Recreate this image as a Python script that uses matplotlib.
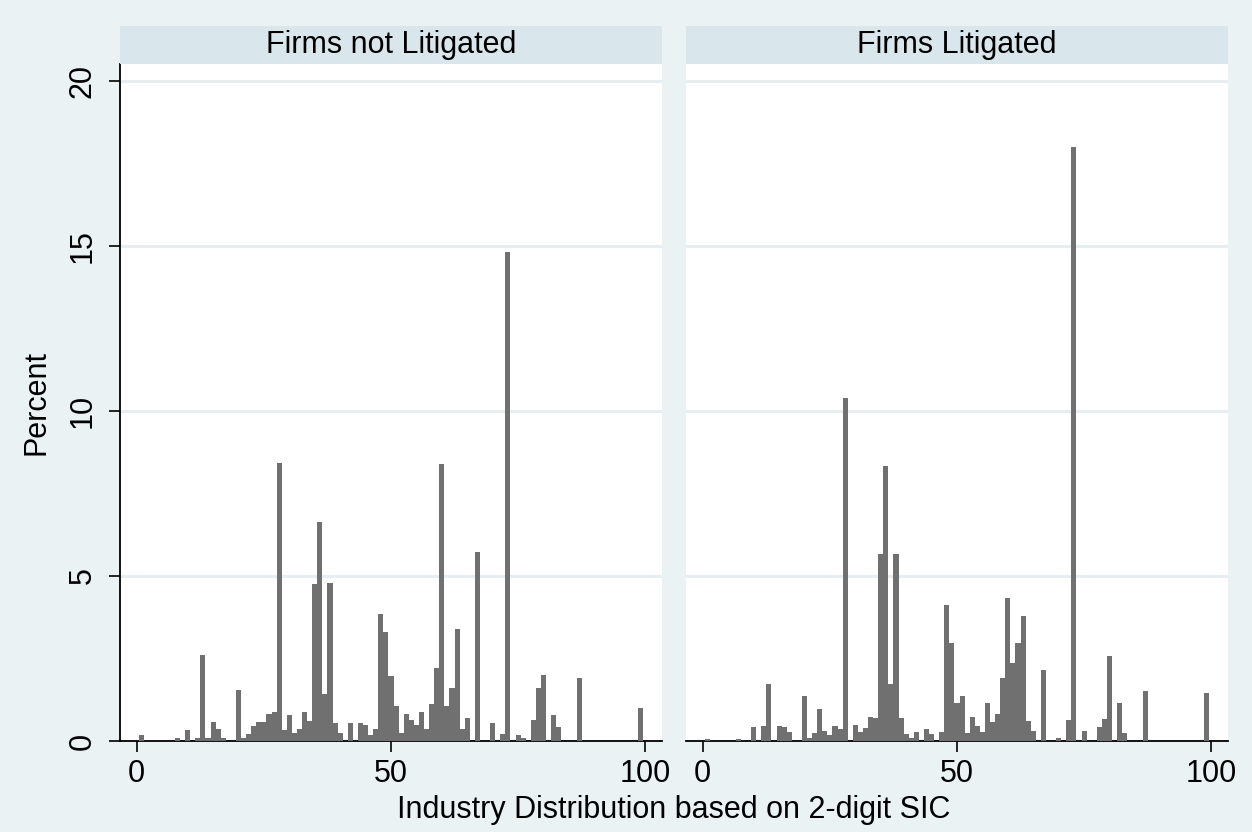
import matplotlib
matplotlib.use("Agg")
import matplotlib.pyplot as plt
import numpy as np

# Percent of firms by 2-digit SIC code
sic_not = [1, 8, 10, 12, 13, 14, 15, 16, 17, 20, 21, 22, 23, 24, 25, 26, 27, 28, 29, 30,
           31, 32, 33, 34, 35, 36, 37, 38, 39, 40, 42, 44, 45, 46, 47, 48, 49, 50, 51, 52,
           53, 54, 55, 56, 57, 58, 59, 60, 61, 62, 63, 64, 65, 67, 70, 72, 73, 75, 76, 78,
           79, 80, 82, 83, 87, 99]
pct_not = [0.18, 0.09, 0.32, 0.09, 2.6, 0.09, 0.59, 0.36, 0.09, 1.55, 0.09, 0.22, 0.45, 0.59, 0.59, 0.82, 0.87, 8.42, 0.32, 0.79,
           0.24, 0.37, 0.88, 0.61, 4.77, 6.64, 1.43, 4.8, 0.56, 0.24, 0.56, 0.56, 0.47, 0.18, 0.35, 3.86, 3.3, 1.97, 1.06, 0.24,
           0.83, 0.65, 0.47, 0.88, 0.37, 1.11, 2.2, 8.4, 1.06, 1.62, 3.39, 0.37, 0.7, 5.72, 0.56, 0.22, 14.8, 0.19, 0.1, 0.65,
           1.62, 2.01, 0.79, 0.42, 1.92, 1.01]

sic_lit = [1, 7, 10, 12, 13, 15, 16, 17, 20, 21, 22, 23, 24, 25, 26, 27, 28, 30, 31,
           32, 33, 34, 35, 36, 37, 38, 39, 40, 41, 42, 44, 45, 47, 48, 49, 50, 51, 52, 53,
           54, 55, 56, 57, 58, 59, 60, 61, 62, 63, 64, 65, 67, 70, 72, 73, 75, 78, 79, 80,
           82, 83, 87, 99]
pct_lit = [0.06, 0.06, 0.41, 0.45, 1.73, 0.45, 0.41, 0.28, 1.36, 0.08, 0.23, 0.96, 0.31, 0.19, 0.45, 0.36, 10.4, 0.47, 0.28,
           0.38, 0.74, 0.7, 5.68, 8.32, 1.74, 5.68, 0.71, 0.2, 0.1, 0.28, 0.36, 0.2, 0.28, 4.11, 2.97, 1.15, 1.37, 0.24, 0.73,
           0.46, 0.28, 1.15, 0.57, 0.83, 1.92, 4.33, 2.37, 2.96, 3.79, 0.6, 0.31, 2.15, 0.09, 0.64, 18.0, 0.31, 0.41, 0.68, 2.56,
           1.14, 0.23, 1.5, 1.45]

panels = [("Firms not Litigated", sic_not, pct_not), ("Firms Litigated", sic_lit, pct_lit)]

bg = "#EAF2F3"
strip_col = "#D9E6EB"
bar_col = "#707070"
grid_col = "#E6EEF1"

plt.rcParams["font.family"] = ["Liberation Sans", "DejaVu Sans"]
fs = 22

W, H = 1252, 832
fig = plt.figure(figsize=(W / 100, H / 100), dpi=100, facecolor=bg)

lefts = [120, 686]
pw = 542
top, base = 64.3, 741

for i, (title, sic, pct) in enumerate(panels):
    ax = fig.add_axes([lefts[i] / W, (H - base) / H, pw / W, (base - top) / H])
    ax.set_facecolor("white")
    ax.bar(sic, pct, width=1.0, color=bar_col, linewidth=0, zorder=3)
    ax.set_xlim(-3.3, 103.3)
    ax.set_ylim(0, 20.5)
    ax.set_yticks([0, 5, 10, 15, 20])
    ax.set_xticks([0, 50, 100])
    ax.grid(axis="y", color=grid_col, linewidth=2.2, zorder=0)
    ax.set_axisbelow(True)
    for s in ["top", "right"]:
        ax.spines[s].set_visible(False)
    ax.spines["bottom"].set_linewidth(1.3)
    ax.tick_params(axis="x", length=8, width=1.2, pad=5, labelsize=fs)
    if i == 0:
        ax.spines["left"].set_linewidth(1.3)
        ax.tick_params(axis="y", length=8, width=1.2, pad=8, labelsize=fs)
        for lab in ax.get_yticklabels():
            lab.set_rotation(90)
            lab.set_va("center")
        ax.set_ylabel("Percent", fontsize=fs, labelpad=12)
    else:
        ax.spines["left"].set_visible(False)
        ax.tick_params(axis="y", left=False, labelleft=False)

    sax = fig.add_axes([lefts[i] / W, (H - top) / H, pw / W, 38.3 / H])
    sax.set_facecolor(strip_col)
    sax.set_xticks([])
    sax.set_yticks([])
    for s in sax.spines.values():
        s.set_visible(False)
    sax.text(0.5, 0.5, title, ha="center", va="center", fontsize=fs, transform=sax.transAxes)

fig.text(674 / W, 1 - 810 / H, "Industry Distribution based on 2-digit SIC",
         ha="center", va="center", fontsize=fs)

fig.savefig("out.png", dpi=100, facecolor=bg)
